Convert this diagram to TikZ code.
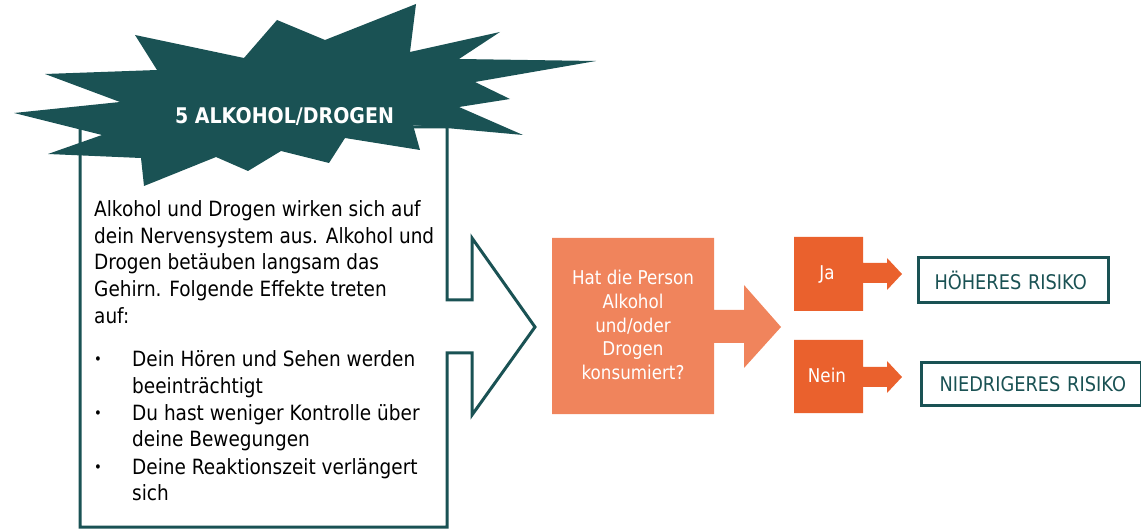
\documentclass[tikz,border=0pt]{standalone}
\usepackage{fontspec}
\setmainfont{DejaVu Sans}[FakeStretch=0.88]
\definecolor{tealc}{HTML}{1A5254}
\definecolor{lorange}{HTML}{F0845C}
\definecolor{dorange}{HTML}{EA612D}
\begin{document}
\begin{tikzpicture}[x=1bp,y=-1bp,
  body/.style={anchor=base west, inner sep=0, font=\fontsize{21bp}{26bp}\selectfont, text=black},
  bul/.style={anchor=base, inner sep=0, font=\fontsize{15bp}{18bp}\selectfont, text=black},
  wtext/.style={inner sep=0, text=white, font=\fontsize{19bp}{23.8bp}\selectfont},
  risk/.style={draw=tealc, line width=3bp, text=tealc, inner ysep=0, align=left, font=\fontsize{20.2bp}{24bp}\selectfont, anchor=north west}
]
\useasboundingbox (0,0) rectangle (1141,529);
% box with arrow
\draw[tealc, line width=3bp, fill=white] (80,527) -- (80,127) -- (447,127) -- (447,300) -- (472,300) -- (472,238)
  -- (535,327) -- (472,415) -- (472,353) -- (447,353) -- (447,527) -- cycle;
% starburst
\fill[tealc] (14,113) -- (120,102) -- (45,74) -- (157,70) -- (135,35) -- (244,58) -- (277,20) -- (325,40)
  -- (416,4) -- (410,52) -- (500,32) -- (459,59) -- (596,61) -- (475,82) -- (510,99) -- (459,107)
  -- (523,135) -- (413,125) -- (420,150) -- (345,138) -- (329,163) -- (281,151) -- (248,171)
  -- (216,157) -- (144,186) -- (141,158) -- (48,154) -- (102,135) -- cycle;
\node[anchor=base, inner sep=0, text=white, font=\bfseries\fontsize{21.6bp}{25bp}\selectfont] (title) at (284.5,124) {5 ALKOHOL/DROGEN};
% body text
\node[body] (p1) at (94,217) {Alkohol und Drogen wirken sich auf};
\node[body] (p2) at (94,243.5) {dein Nervensystem aus. Alkohol und};
\node[body] (p3) at (94,270) {Drogen betäuben langsam das};
\node[body] (p4) at (94,296.7) {Gehirn. Folgende Effekte treten};
\node[body] (p5) at (94,323.3) {auf:};
\node[bul] (u1) at (98,365) {•};
\node[body] (t1) at (132,366.7) {Dein Hören und Sehen werden};
\node[body] (t1b) at (132,393.3) {beeinträchtigt};
\node[bul] (u2) at (98,418.3) {•};
\node[body] (t2) at (132,420) {Du hast weniger Kontrolle über};
\node[body] (t2b) at (132,446.7) {deine Bewegungen};
\node[bul] (u3) at (98,472.3) {•};
\node[body] (t3) at (132,474) {Deine Reaktionszeit verlängert};
\node[body] (t3b) at (132,500.7) {sich};
% question block arrow
\fill[lorange] (552,238) -- (714,238) -- (714,310) -- (744,310) -- (744,285) -- (781,327) -- (744,368)
  -- (744,343) -- (714,343) -- (714,414) -- (552,414) -- cycle;
\node[wtext, anchor=north, align=center] (q) at (633,269.8) {Hat die Person\\Alkohol\\und/oder\\Drogen\\konsumiert?};
% Ja
\fill[dorange] (794,237) -- (863,237) -- (863,263) -- (887,263) -- (887,258) -- (902,274) -- (887,290)
  -- (887,283) -- (863,283) -- (863,311) -- (794,311) -- cycle;
\node[wtext, anchor=base] (ja) at (827,279.3) {Ja};
% Nein
\fill[dorange] (794,340) -- (863,340) -- (863,367) -- (887,367) -- (887,361) -- (902,377) -- (887,393)
  -- (887,387) -- (863,387) -- (863,413) -- (794,413) -- cycle;
\node[wtext, anchor=base] (nein) at (827,382.7) {Nein};
% results
\node[risk, inner xsep=16bp, text width=158bp, minimum height=45bp] (hi) at (917,256) {\mbox{HÖHERES RISIKO}};
\node[risk, inner xsep=18bp, text width=184bp, minimum height=43bp] (lo) at (920,361) {\mbox{NIEDRIGERES RISIKO}};
\end{tikzpicture}
\end{document}
